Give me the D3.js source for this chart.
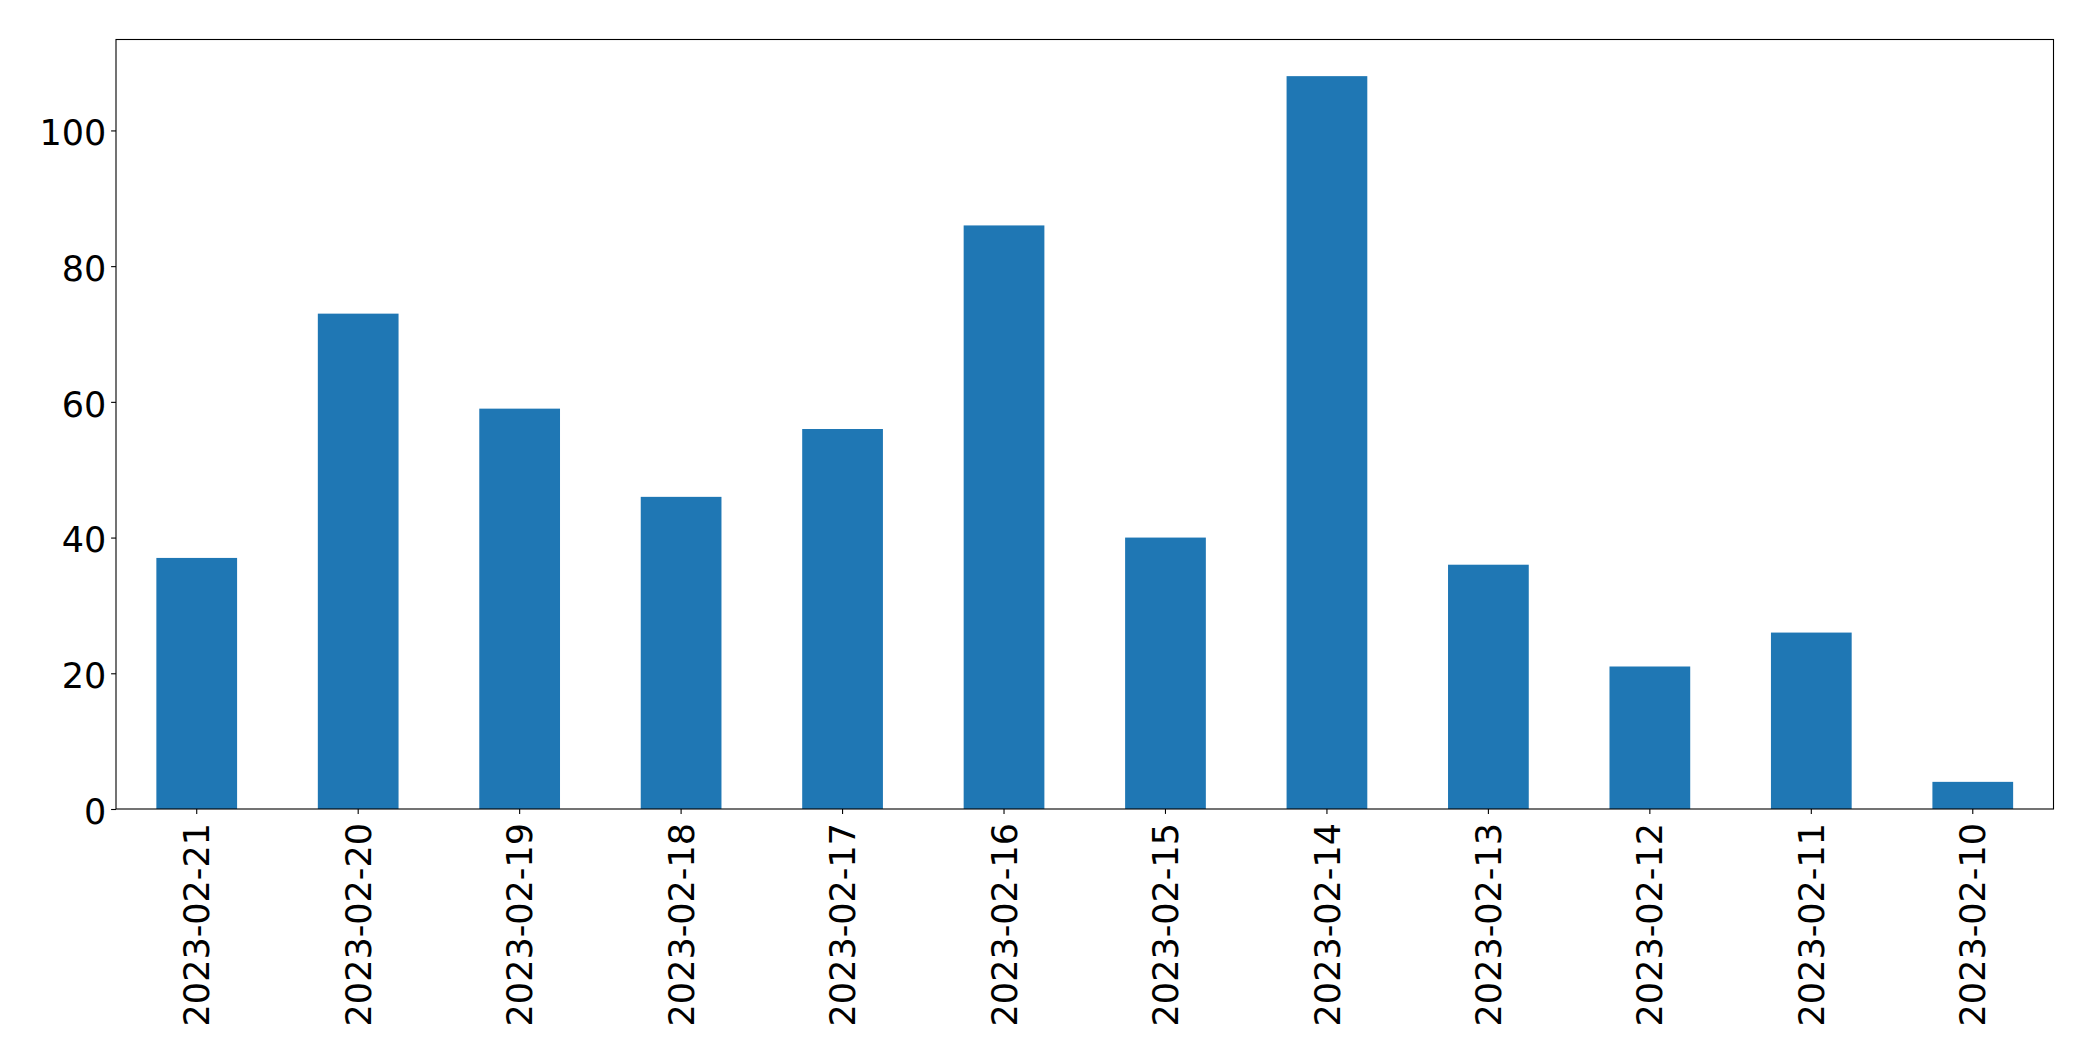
<!DOCTYPE html>
<html>
<head>
<meta charset="utf-8">
<script src="https://cdn.jsdelivr.net/npm/d3@7"></script>
<style>
  html, body { margin: 0; padding: 0; background: #fff; }
  svg { display: block; }
  text { font-family: "DejaVu Sans", sans-serif; fill: #000; }
</style>
</head>
<body>
<script>
const categories = ["2023-02-21","2023-02-20","2023-02-19","2023-02-18","2023-02-17","2023-02-16","2023-02-15","2023-02-14","2023-02-13","2023-02-12","2023-02-11","2023-02-10"];
const values = [37, 73, 59, 46, 56, 86, 40, 108, 36, 21, 26, 4];
const yTicks = [0, 20, 40, 60, 80, 100];

const W = 2093, H = 1061;
const margin = {left: 116, top: 39.5, right: W - 2053.5, bottom: H - 809};
const fontSize = 35;

const svg = d3.select("body").append("svg").attr("width", W).attr("height", H);

const x = d3.scaleBand().domain(categories)
  .range([margin.left, W - margin.right])
  .paddingInner(0.5).paddingOuter(0.25);
const y = d3.scaleLinear().domain([0, d3.max(values) * 1.05])
  .range([H - margin.bottom, margin.top]);

svg.append("g").selectAll("rect").data(values).join("rect")
  .attr("x", (d, i) => x(categories[i]))
  .attr("width", x.bandwidth())
  .attr("y", d => y(d))
  .attr("height", d => y(0) - y(d))
  .attr("fill", "#1f77b4");

const yAxis = svg.append("g")
  .attr("transform", `translate(${margin.left},0)`)
  .call(d3.axisLeft(y).tickValues(yTicks).tickSize(4.9).tickPadding(4.9).tickFormat(d3.format("d")));
yAxis.selectAll("text")
  .style("font-size", fontSize + "px")
  .attr("font-family", "DejaVu Sans")
  .attr("dy", "0.41em");

const xAxis = svg.append("g")
  .attr("transform", `translate(0,${H - margin.bottom})`)
  .call(d3.axisBottom(x).tickSize(4.9).tickPadding(4.9));
xAxis.selectAll("text")
  .style("font-size", fontSize + "px")
  .attr("font-family", "DejaVu Sans")
  .attr("transform", "rotate(-90)")
  .attr("text-anchor", "end")
  .attr("x", -14)
  .attr("y", 0)
  .attr("dy", "0.36em");

svg.selectAll(".domain").remove();
svg.selectAll(".tick line").attr("stroke", "#000").attr("stroke-width", 1.1);

// frame (spines)
svg.append("rect")
  .attr("x", margin.left).attr("y", margin.top)
  .attr("width", W - margin.right - margin.left)
  .attr("height", H - margin.bottom - margin.top)
  .attr("fill", "none").attr("stroke", "#000").attr("stroke-width", 1.1);
</script>
</body>
</html>
